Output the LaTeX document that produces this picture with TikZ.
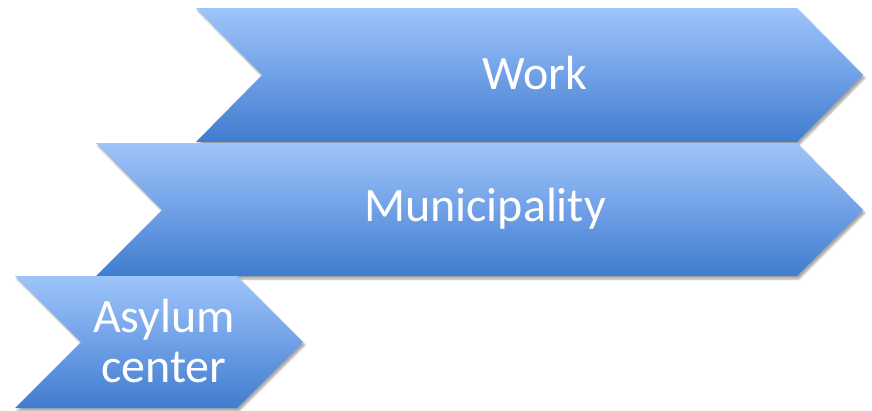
\documentclass[tikz,border=0pt]{standalone}
\usepackage{fontspec}
\setmainfont{Carlito}
\usetikzlibrary{shadows.blur}
\definecolor{chevtop}{RGB}{158,197,250}
\definecolor{chevmid}{RGB}{112,160,230}
\definecolor{chevbot}{RGB}{64,124,206}
\tikzset{
  chev/.style={top color=chevtop, bottom color=chevbot, middle color=chevmid, draw=none,
    blur shadow={shadow xshift=2pt, shadow yshift=-3pt, shadow blur steps=6, shadow opacity=35}},
  lbl/.style={text=white, font=\fontsize{48}{52}\selectfont, align=center, inner sep=0pt}
}
\begin{document}
\begin{tikzpicture}[x=1pt,y=-1pt]
\useasboundingbox (0,0) rectangle (872,410);
% Work
\path[chev] (196,8) -- (797,8) -- (863,75) -- (797,142) -- (196,142) -- (262,75) -- cycle;
\node[lbl] (work) at (535,73) {Work};
% Municipality
\path[chev] (96,143) -- (797,143) -- (863,210) -- (797,276) -- (96,276) -- (162,210) -- cycle;
\node[lbl] (muni) at (485,209) {Municipality};
% Asylum center
\path[chev] (15,276) -- (237,276) -- (303,342) -- (237,408) -- (15,408) -- (81,342) -- cycle;
\node[lbl, font=\fontsize{48}{50}\selectfont] (asylum) at (164,341) {Asylum\\center};
\end{tikzpicture}
\end{document}
